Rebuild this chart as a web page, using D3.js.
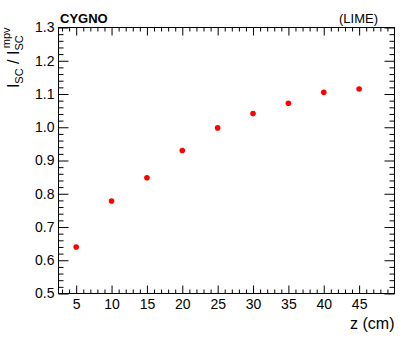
<!DOCTYPE html>
<html><head><meta charset="utf-8">
<script src="https://cdn.jsdelivr.net/npm/d3@7"></script>
<style>body{margin:0;background:#fff}svg{display:block}text{font-family:"Liberation Sans",Arial,sans-serif}</style>
</head><body><svg id="c" width="415" height="347"></svg>
<script>
const zValues = [5, 10, 15, 20, 25, 30, 35, 40, 45];
const ratioValues = [0.640, 0.778, 0.848, 0.930, 0.998, 1.041, 1.072, 1.105, 1.115];
const xTickLabels = [5, 10, 15, 20, 25, 30, 35, 40, 45];
const yTickLabels = [0.5, 0.6, 0.7, 0.8, 0.9, 1.0, 1.1, 1.2, 1.3];

const W = 415, H = 347;
const L = 58.5, R = 394.5, T = 27.5, B = 293.5;
const svg = d3.select("#c");
const x = d3.scaleLinear().domain([2.5, 50]).range([L, R]);
const y = d3.scaleLinear().domain([0.5, 1.3]).range([B, T]);

const xMinor = d3.range(3, 50.001, 1).filter(v => v % 5 !== 0);
const yMinor = d3.range(0.5, 1.3001, 0.02).filter(v => Math.abs(Math.round(v*10) - v*10) > 1e-6);

const FONT = '"Liberation Sans",Arial,sans-serif';

// bottom axis
const gB = svg.append("g").attr("transform", `translate(0,${B})`)
  .call(d3.axisBottom(x).tickValues(xTickLabels).tickSize(-8).tickPadding(6).tickFormat(d3.format("d")));
gB.select(".domain").remove();
gB.selectAll(".tick text").attr("font-size", 14).attr("fill", "#000").attr("font-family", FONT);
const gBm = svg.append("g").attr("transform", `translate(0,${B})`)
  .call(d3.axisBottom(x).tickValues(xMinor).tickSize(-4).tickFormat(""));
gBm.select(".domain").remove();

// top axis ticks
const gT = svg.append("g").attr("transform", `translate(0,${T})`)
  .call(d3.axisTop(x).tickValues(xTickLabels).tickSize(-8).tickFormat(""));
gT.select(".domain").remove();
const gTm = svg.append("g").attr("transform", `translate(0,${T})`)
  .call(d3.axisTop(x).tickValues(xMinor).tickSize(-4).tickFormat(""));
gTm.select(".domain").remove();

// left axis
const gL = svg.append("g").attr("transform", `translate(${L},0)`)
  .call(d3.axisLeft(y).tickValues(yTickLabels).tickSize(-10).tickPadding(4).tickFormat(d3.format(".1f")));
gL.select(".domain").remove();
gL.selectAll(".tick text").attr("font-size", 14).attr("fill", "#000").attr("font-family", FONT);
const gLm = svg.append("g").attr("transform", `translate(${L},0)`)
  .call(d3.axisLeft(y).tickValues(yMinor).tickSize(-5).tickFormat(""));
gLm.select(".domain").remove();

// right axis ticks
const gR = svg.append("g").attr("transform", `translate(${R},0)`)
  .call(d3.axisRight(y).tickValues(yTickLabels).tickSize(-10).tickFormat(""));
gR.select(".domain").remove();
const gRm = svg.append("g").attr("transform", `translate(${R},0)`)
  .call(d3.axisRight(y).tickValues(yMinor).tickSize(-5).tickFormat(""));
gRm.select(".domain").remove();

svg.selectAll(".tick line").attr("stroke", "#000").attr("stroke-width", 1);

// frame
svg.append("rect").attr("x", L).attr("y", T).attr("width", R - L).attr("height", B - T)
  .attr("fill", "none").attr("stroke", "#000").attr("stroke-width", 1);

// points
svg.append("g").selectAll("circle").data(zValues).join("circle")
  .attr("cx", (d) => x(d)).attr("cy", (d, i) => y(ratioValues[i])).attr("r", 2.8).attr("fill", "#ff0000");

// titles
svg.append("text").attr("x", R).attr("y", 329).attr("text-anchor", "end").attr("font-size", 16).text("z (cm)");

const yt = svg.append("text").attr("transform", `translate(19,${T}) rotate(-90)`).attr("text-anchor", "end").attr("font-size", 16);
yt.append("tspan").text("I");
yt.append("tspan").attr("font-size", 11).attr("dy", 4).text("SC");
yt.append("tspan").attr("dy", -4).text(" / I");
yt.append("tspan").attr("font-size", 11).attr("dy", 4).text("SC");
yt.append("tspan").attr("font-size", 11).attr("dx", -13).attr("dy", -13).text("mpv");

svg.append("text").attr("x", 60).attr("y", 23).attr("font-size", 13).attr("font-weight", "bold").text("CYGNO");
svg.append("text").attr("x", 378).attr("y", 23).attr("text-anchor", "end").attr("font-size", 13).text("(LIME)");
</script></body></html>
